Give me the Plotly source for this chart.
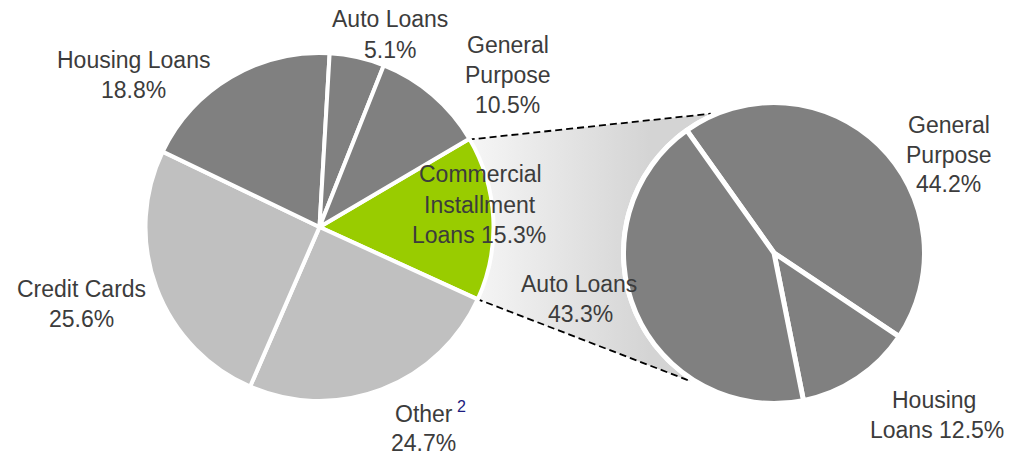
import math
import plotly.graph_objects as go

W, H = 1009, 456

# Consumer loan mix (left pie), listed clockwise from the highlighted slice
mix_labels = ["Commercial Installment Loans", "Other", "Credit Cards",
              "Housing Loans", "Auto Loans", "General Purpose"]
mix_values = [15.3, 24.7, 25.6, 18.8, 5.1, 10.5]
mix_colors = ["#99cc00", "#c0c0c0", "#c0c0c0", "#808080", "#808080", "#808080"]

# Breakdown of commercial installment loans (right pie)
ci_labels = ["General Purpose", "Housing Loans", "Auto Loans"]
ci_values = [44.2, 12.5, 43.3]
ci_colors = ["#808080", "#808080", "#808080"]

# Pie geometry in pixels (visible radius, border width, start angle clockwise from 12 o'clock)
L_CX, L_CY, L_R, L_LW, L_ROT = 319.5, 227.0, 172.0, 4, 59.5
R_CX, R_CY, R_R, R_LW, R_ROT = 774.0, 253.0, 148.0, 5, -35.4
R_HALO = 153.0
CONNECT_TOP, CONNECT_BOTTOM = -24.4, 213.1   # where the connector meets the right pie

TEXT = "#3c3c3c"
FONT = "Arial, Liberation Sans, sans-serif"
FS = 23


def pt(cx, cy, r, ang):
    a = math.radians(ang)
    return cx + r * math.sin(a), cy - r * math.cos(a)


def domain(cx, cy, r):
    return dict(x=[(cx - r) / W, (cx + r) / W],
                y=[1 - (cy + r) / H, 1 - (cy - r) / H])


# Edges of the highlighted slice, from its share of the pie
a0 = L_ROT
a1 = L_ROT + 360.0 * mix_values[0] / sum(mix_values)
g_top = pt(L_CX, L_CY, L_R, a0)
g_bot = pt(L_CX, L_CY, L_R, a1)
r_top = pt(R_CX, R_CY, R_HALO, CONNECT_TOP)
r_bot = pt(R_CX, R_CY, R_HALO, CONNECT_BOTTOM)

fig = go.Figure()

# Shaded connector between the slice and its breakdown
poly_x = [g_top[0], r_top[0], R_CX, r_bot[0], g_bot[0], L_CX, g_top[0]]
poly_y = [g_top[1], r_top[1], R_CY, r_bot[1], g_bot[1], L_CY, g_top[1]]
fig.add_trace(go.Scatter(
    x=poly_x, y=poly_y, mode="lines", fill="toself", line=dict(width=0),
    fillgradient=dict(type="horizontal", start=470, stop=650,
                      colorscale=[[0, "#f6f6f6"], [1, "#d4d4d4"]]),
    hoverinfo="skip", showlegend=False))

# White halo around the right pie
n = 240
hx = [R_CX + R_HALO * math.cos(2 * math.pi * i / n) for i in range(n + 1)]
hy = [R_CY + R_HALO * math.sin(2 * math.pi * i / n) for i in range(n + 1)]
fig.add_trace(go.Scatter(x=hx, y=hy, mode="lines", fill="toself",
                         fillcolor="white", line=dict(width=0),
                         hoverinfo="skip", showlegend=False))

# Dashed connector lines
for p, q in ((g_top, r_top), (g_bot, r_bot)):
    fig.add_trace(go.Scatter(x=[p[0], q[0]], y=[p[1], q[1]], mode="lines",
                             line=dict(color="black", width=1.8, dash="7px,4px"),
                             hoverinfo="skip", showlegend=False))

fig.add_trace(go.Pie(
    labels=mix_labels, values=mix_values, sort=False, direction="clockwise",
    rotation=L_ROT, textinfo="none", hoverinfo="skip", showlegend=False,
    marker=dict(colors=mix_colors, line=dict(color="white", width=L_LW)),
    domain=domain(L_CX, L_CY, L_R + L_LW / 2)))

fig.add_trace(go.Pie(
    labels=ci_labels, values=ci_values, sort=False, direction="clockwise",
    rotation=R_ROT, textinfo="none", hoverinfo="skip", showlegend=False,
    marker=dict(colors=ci_colors, line=dict(color="white", width=R_LW)),
    domain=domain(R_CX, R_CY, R_R + R_LW / 2)))

mix = dict(zip(mix_labels, mix_values))
ci = dict(zip(ci_labels, ci_values))
pct = lambda v: f"{v:.1f}%"
sup2 = '<sup><span style="color:#1c1c80"> 2</span></sup>'

# (text, x centre, baseline y)
lines = [
    ("Auto Loans", 390, 26.7), (pct(mix["Auto Loans"]), 390, 57.5),
    ("General", 507.5, 53), ("Purpose", 507.5, 83), (pct(mix["General Purpose"]), 507.5, 113),
    ("Housing Loans", 133.5, 68), (pct(mix["Housing Loans"]), 133.5, 98),
    ("Credit Cards", 81, 296.7), (pct(mix["Credit Cards"]), 81, 326.7),
    ("Other" + sup2, 430, 420), (pct(mix["Other"]), 423, 451),
    ("Commercial", 480, 181.5), ("Installment", 480, 212.5),
    ("Loans " + pct(mix["Commercial Installment Loans"]), 478.5, 243),
    ("Auto Loans", 579, 291.5), (pct(ci["Auto Loans"]), 580, 321.5),
    ("General", 949, 133), ("Purpose", 948.5, 162.5), (pct(ci["General Purpose"]), 948, 192),
    ("Housing", 933.5, 408), ("Loans " + pct(ci["Housing Loans"]), 937, 438),
]
for txt, x, base in lines:
    fig.add_annotation(x=x, y=base - 0.347 * FS, xref="x", yref="y", text=txt,
                       showarrow=False, xanchor="center", yanchor="middle",
                       font=dict(family=FONT, size=FS, color=TEXT), borderpad=0)

fig.update_xaxes(range=[0, W], visible=False, fixedrange=True)
fig.update_yaxes(range=[H, 0], visible=False, fixedrange=True)
fig.update_layout(width=W, height=H, margin=dict(l=0, r=0, t=0, b=0),
                  paper_bgcolor="white", plot_bgcolor="white", showlegend=False)

fig.write_html("out.html")
